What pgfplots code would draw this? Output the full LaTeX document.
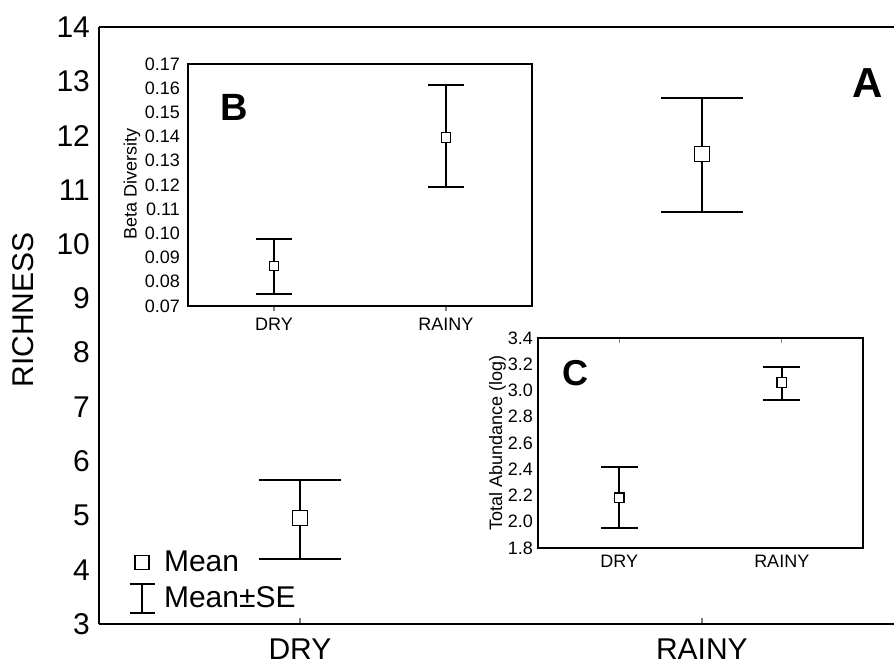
\documentclass[border=0pt]{standalone}
\usepackage{fontspec}
\setmainfont{Liberation Sans}
\usepackage{pgfplots}
\pgfplotsset{compat=1.18}
\usepackage{pgfplotstable}

\pgfplotstableread{
x y ep em
0 4.95 0.70 0.75
1 11.66 1.03 1.07
}\richtab
\pgfplotstableread{
x y ep em
0 0.0865 0.0112 0.0115
1 0.1397 0.0216 0.0205
}\betatab
\pgfplotstableread{
x y ep em
0 2.183 0.234 0.233
1 3.06 0.12 0.13
}\abundtab

\begin{document}
\begin{tikzpicture}
% main panel A
\begin{axis}[
  at={(0,0)}, anchor=south west,
  width=397.5pt, height=298.5pt, scale only axis,
  axis x line*=box, axis y line*=left,
  axis line style={line width=0.9pt},
  xmin=-0.5, xmax=1.478, ymin=3, ymax=14,
  xtick={0,1}, xticklabels={DRY,RAINY},
  ytick={3,...,14},
  xtick pos=bottom, tick align=inside,
  major tick length=3pt,
  x tick style={line width=0.8pt},
  y tick style={draw=none},
  font=\fontsize{15}{18}\selectfont,
  /pgf/number format/assume math mode=true,
  yticklabel style={xshift=-1pt},
  xticklabel style={yshift=-4pt},
  ylabel={RICHNESS},
  ylabel style={at={(axis description cs:-0.073,0.526)}, anchor=south},
  legend style={at={(0.036,0.13)}, anchor=north west, draw=none, fill=none,
    font=\fontsize{15}{18}\selectfont, row sep=2pt, inner sep=0pt},
  legend cell align=left,
]
\addplot[forget plot, only marks, mark=square*, mark size=3.75pt,
  mark options={fill=white, draw=black, line width=0.7pt},
  error bars/.cd, y dir=both, y explicit, error mark=|,
  error bar style={line width=1pt},
  error mark options={line width=1pt, mark size=20.5pt}]
  table[x=x, y=y, y error plus=ep, y error minus=em] {\richtab};
\addlegendimage{legend image code/.code={
  \path[draw=none] (-7pt,0) -- (9pt,0);
  \draw[line width=0.6pt, fill=white] (-3.5pt,-3.5pt) rectangle (3.5pt,3.5pt);}}
\addlegendentry{Mean}
\addlegendimage{legend image code/.code={
  \path[draw=none] (-7pt,0) -- (9pt,0);
  \draw[line width=0.8pt] (0,-7.25pt) -- (0,7.25pt)
    (-6.25pt,-7.25pt) -- (6.25pt,-7.25pt) (-6.25pt,7.25pt) -- (6.25pt,7.25pt);}}
\addlegendentry{Mean±SE}
\node[font=\fontsize{21}{24}\selectfont\bfseries] at (axis cs:1.413,12.96) {A};
\end{axis}

% inset B
\begin{axis}[
  at={(44.5pt,159pt)}, anchor=south west,
  width=172pt, height=121pt, scale only axis,
  axis background/.style={fill=white},
  axis line style={line width=0.8pt},
  xmin=-0.5, xmax=1.5, ymin=0.07, ymax=0.17,
  xtick={0,1}, xticklabels={DRY,RAINY},
  ytick={0.07,0.08,...,0.175},
  xtick pos=bottom, tick align=outside,
  major tick length=2.5pt,
  x tick style={line width=0.6pt},
  y tick style={draw=none},
  yticklabel style={xshift=2pt, /pgf/number format/.cd, fixed, fixed zerofill, precision=2},
  font=\fontsize{9}{11}\selectfont,
  /pgf/number format/assume math mode=true,
  ylabel={Beta Diversity},
  ylabel style={at={(axis description cs:-0.118,0.504)}, anchor=south},
]
\addplot[only marks, mark=square*, mark size=2.4pt,
  mark options={fill=white, draw=black, line width=0.6pt},
  error bars/.cd, y dir=both, y explicit, error mark=|,
  error bar style={line width=0.9pt},
  error mark options={line width=0.9pt, mark size=9pt}]
  table[x=x, y=y, y error plus=ep, y error minus=em] {\betatab};
\node[font=\fontsize{19}{22}\selectfont\bfseries] at (axis cs:-0.233,0.152) {B};
\end{axis}

% inset C
\begin{axis}[
  at={(219.5pt,38pt)}, anchor=south west,
  width=162.5pt, height=105pt, scale only axis,
  axis background/.style={fill=white},
  axis line style={line width=0.8pt},
  xmin=-0.5, xmax=1.5, ymin=1.8, ymax=3.4,
  xtick={0,1}, xticklabels={DRY,RAINY},
  ytick={1.8,2.0,...,3.45},
  xtick pos=top, tick align=inside,
  xticklabel pos=lower,
  major tick length=2.5pt,
  x tick style={line width=0.6pt},
  y tick style={draw=none},
  yticklabel style={xshift=1pt, /pgf/number format/.cd, fixed, fixed zerofill, precision=1},
  font=\fontsize{9}{11}\selectfont,
  /pgf/number format/assume math mode=true,
  ylabel={Total Abundance (log)},
  ylabel style={at={(axis description cs:-0.077,0.502)}, anchor=south},
]
\addplot[only marks, mark=square*, mark size=2.4pt,
  mark options={fill=white, draw=black, line width=0.6pt},
  error bars/.cd, y dir=both, y explicit, error mark=|,
  error bar style={line width=0.9pt},
  error mark options={line width=0.9pt, mark size=9.25pt}]
  table[x=x, y=y, y error plus=ep, y error minus=em] {\abundtab};
\node[font=\fontsize{18}{21}\selectfont\bfseries] at (axis cs:-0.27,3.13) {C};
\end{axis}

\pgfresetboundingbox
\path (-49.5pt,-20pt) rectangle (397.5pt,312pt);
\end{tikzpicture}
\end{document}
